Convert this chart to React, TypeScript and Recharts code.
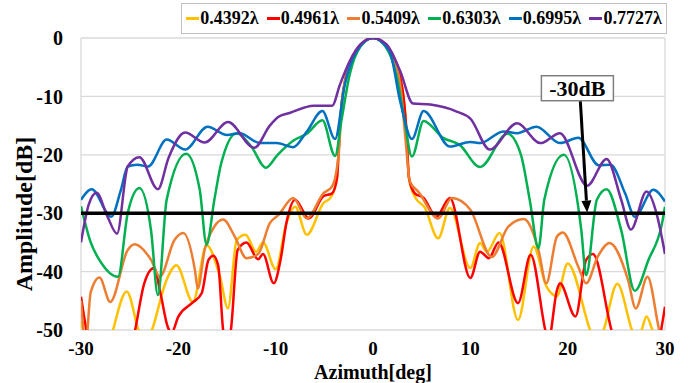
import React from "react";
import {
  LineChart,
  Line,
  XAxis,
  YAxis,
  CartesianGrid,
  ReferenceLine,
  ReferenceDot,
  Label,
} from "recharts";

const FONT = "'Liberation Serif', 'Times New Roman', serif";

const seriesNames = ["0.4392λ", "0.4961λ", "0.5409λ", "0.6303λ", "0.6995λ", "0.7727λ"];
const seriesColors = ["#FFC000", "#FF0000", "#ED7D31", "#00B050", "#0070C0", "#7030A0"];

// 0.4392λ
const azYellow = [-30, -29.5, -28, -26.7, -25.3, -24.1, -23.4, -22.7, -21.2, -20.2, -18.5, -17.1, -15.7, -14.9, -14, -13.1, -12, -11.3, -10, -8.9, -8, -6.8, -5.1, -4.3, -3.7, -3.4, -3, -1.7, 0, 1.7, 3, 3.4, 3.7, 4.3, 5.3, 6.7, 7.9, 10, 11, 11.7, 13, 14.9, 16.5, 17.8, 18.9, 20, 22.3, 23, 23.7, 25.1, 26.6, 27.1, 27.6, 28.1, 28.7, 29.3, 30];
const dbYellow = [-48.5, -52, -60, -50, -43.4, -50, -53, -50, -41.4, -38.9, -45.2, -35.5, -41, -46.3, -34.6, -33.7, -36.6, -35, -39.6, -31.7, -28.9, -33.7, -28.3, -27.2, -24, -15, -8.5, -2.1, 0, -2.1, -8.5, -15, -24, -27.2, -29, -34.3, -29.1, -39.4, -35.1, -36.6, -33.4, -48.3, -35.7, -42.5, -44.2, -38.6, -50, -53, -50, -42.1, -50, -52, -50, -47.7, -50, -53, -51];

// 0.4961λ
const azRed = [-30, -29.4, -27, -24.5, -23.5, -22.5, -21.8, -21.1, -20.7, -20, -18.6, -17.6, -16.9, -16.4, -15.9, -15.4, -15, -14.6, -13.9, -13, -11.8, -11.3, -10.2, -9.5, -8.9, -8, -6.6, -5.1, -4.2, -3.7, -3.4, -3, -1.7, 0, 1.7, 3, 3.4, 3.7, 4.3, 5.2, 6.5, 7.9, 10, 11, 11.9, 12.9, 14.9, 16.2, 17.7, 18, 18.9, 19.2, 20.8, 21.9, 22.6, 24.5, 27, 29.6, 30];
const dbRed = [-44.3, -50.5, -62, -50.5, -42, -39.4, -44, -49.4, -50.5, -47.7, -45.4, -43.7, -38, -37.3, -39, -50, -53, -50, -36.3, -35, -37.9, -37, -42, -38, -31.7, -27.7, -30.9, -27.1, -26.6, -24, -15, -8.5, -2.1, 0, -2.1, -8.5, -15, -24, -26.6, -27.4, -30.6, -27.4, -41.1, -36.6, -37.7, -35, -45.4, -37.1, -50, -52, -43.2, -42, -47.7, -38, -37, -50, -62, -50, -46];

// 0.5409λ
const azOrange = [-30, -29.5, -29, -28.1, -27, -25.2, -24.5, -22.8, -21.9, -20.4, -19.5, -18.3, -18, -17.3, -16.3, -15.4, -14.2, -13, -11.8, -10.6, -9.7, -8.2, -6.8, -5.1, -4.2, -3.5, -3.2, -2.7, -1.7, 0, 1.7, 2.8, 3.3, 3.8, 4.7, 6.7, 8.1, 10, 12.2, 13.9, 15.5, 17, 17.8, 18.9, 19.5, 21.1, 21.9, 23.1, 24.3, 26.2, 27, 28.2, 29.4, 30];
const dbOrange = [-45, -52, -43.5, -41, -45.2, -36.3, -35.3, -38, -40.9, -34.6, -33.4, -39.7, -42.9, -36.3, -32.3, -31.1, -34, -37.7, -37, -31.7, -30.3, -27.4, -30.9, -26.6, -25.4, -19.4, -10.9, -6.3, -2, 0, -2, -8, -16.6, -24.6, -26.4, -30.9, -27.4, -29.4, -37.5, -32.3, -31, -36.3, -42, -34, -33.3, -39.2, -42, -37.4, -35.1, -41.4, -46.3, -40.9, -50, -54];

// 0.6303λ
const azGreen = [-30, -29, -28, -26.2, -25.2, -24, -22.8, -22.1, -21.2, -19.2, -17.8, -17.1, -16.3, -15.6, -14, -12.5, -11, -9.8, -8.2, -6.8, -5.2, -3.9, -3.2, -2.4, -1.3, 0, 1.3, 2.4, 3.2, 4, 5.2, 7.2, 8.9, 11, 13.8, 15.2, 16.1, 17, 17.6, 19.6, 21.4, 21.9, 23, 24, 25.5, 26.9, 28.3, 29.7, 30];
const dbGreen = [-28.8, -35, -38.3, -40.9, -30, -25.7, -33, -44, -27.7, -19.8, -26, -35.4, -27.7, -21.5, -16.3, -18.6, -22.2, -20, -17.6, -16.4, -14.1, -20.2, -13.7, -6.3, -1.5, 0, -1.5, -6.3, -13.7, -20.3, -14.2, -17.1, -18.3, -22.1, -16.4, -20, -27.7, -36, -27.7, -20, -32.9, -40.6, -27.7, -25.9, -32.9, -43.3, -38, -31.7, -28.9];

// 0.6995λ
const azBlue = [-30, -28.9, -26.9, -25.9, -25.2, -24.2, -23.1, -21.2, -19.3, -17, -15, -13.7, -11.6, -9.9, -8.2, -6.8, -5.2, -3.9, -2.9, -1.7, 0, 1.7, 2.8, 4, 5.2, 7.9, 10, 11, 13.4, 14.8, 16.8, 19.2, 21.1, 23.2, 24.4, 25.9, 26.9, 28.8, 30];
const dbBlue = [-27.7, -25.9, -30.6, -26, -22, -21.7, -22, -17.4, -19.1, -15.2, -16.6, -16.3, -18, -18, -18.7, -16, -12.5, -17.3, -8, -2.3, 0, -2.3, -10.9, -17.3, -12.5, -18.6, -17.8, -18, -16, -16.3, -15.2, -18, -17.1, -21.8, -21.7, -26.6, -30.6, -26, -28];

// 0.7727λ
const azPurple = [-30, -29.2, -28.4, -27.3, -26.3, -25.2, -24, -22.1, -21, -19.3, -17.3, -14.9, -12.2, -10.6, -9.7, -8.5, -6.1, -4.2, -3.4, -2.4, -1.3, 0, 1.4, 2.8, 4.1, 5.9, 8.6, 10, 12, 14.8, 17.2, 19.2, 22, 24, 25.5, 26.5, 28.1, 29.2, 30];
const dbPurple = [-35, -28.5, -26.5, -30.5, -33.5, -22, -20.4, -25.9, -20.5, -16.2, -17.9, -14.4, -18.8, -15, -13.5, -12.8, -11.6, -11.6, -8, -4, -1.1, 0, -1.1, -5.7, -11.2, -11.4, -12.6, -13.8, -19.1, -14.6, -18, -16.3, -25.3, -20.7, -27.7, -32.8, -26.3, -30.5, -37];

const seriesAz = [azYellow, azRed, azOrange, azGreen, azBlue, azPurple];
const seriesDb = [dbYellow, dbRed, dbOrange, dbGreen, dbBlue, dbPurple];

const xTicks = [-30, -20, -10, 0, 10, 20, 30];
const yTicks = [0, -10, -20, -30, -40, -50];
const thresholdDb = -30;
const annotationText = "-30dB";
const boxAt = { az: 21, db: -8.6 };
const arrowFrom = { az: 21.3, db: -10.8 };
const arrowTo = { az: 22, db: -29.9 };

const toPoints = (az: number[], db: number[]) => az.map((a, i) => ({ az: a, db: db[i] }));

function ArrowShape(props: any) {
  const { x1, y1, x2, y2 } = props;
  const ang = Math.atan2(y2 - y1, x2 - x1);
  const len = 12;
  const half = 5;
  const bx = x2 - len * Math.cos(ang);
  const by = y2 - len * Math.sin(ang);
  const px = -Math.sin(ang) * half;
  const py = Math.cos(ang) * half;
  return (
    <g>
      <line x1={x1} y1={y1} x2={bx} y2={by} stroke="#000" strokeWidth={3} />
      <polygon points={`${x2},${y2} ${bx + px},${by + py} ${bx - px},${by - py}`} fill="#000" />
    </g>
  );
}

function BoxShape(props: any) {
  const { cx, cy } = props;
  return (
    <g>
      <rect x={cx - 36} y={cy - 12.5} width={72} height={25} fill="#fff" stroke="#7f7f7f" strokeWidth={1.5} />
      <text x={cx} y={cy + 7.5} textAnchor="middle" fontFamily={FONT} fontWeight="bold" fontSize={22} fill="#000">
        {annotationText}
      </text>
    </g>
  );
}

const yTickStyle = { fontFamily: FONT, fontWeight: "bold" as const, fontSize: 20, fill: "#000" };
const xTickStyle = { fontFamily: FONT, fontWeight: "bold" as const, fontSize: 19, fill: "#000" };

export default function App() {
  return (
    <div style={{ position: "absolute", left: 0, top: 0, width: 692, height: 383, background: "#fff" }}>
      <div
        style={{
          position: "absolute",
          left: 181,
          top: 3,
          width: 484,
          height: 29,
          border: "1px solid #bfbfbf",
          display: "flex",
          alignItems: "center",
          justifyContent: "space-around",
          fontFamily: FONT,
          fontWeight: "bold",
          fontSize: 18,
          background: "#fff",
          zIndex: 2,
        }}
      >
        {seriesNames.map((n, i) => (
          <span key={n} style={{ display: "flex", alignItems: "center" }}>
            <span style={{ display: "inline-block", width: 13, height: 2.5, background: seriesColors[i], marginRight: 1 }} />
            {n}
          </span>
        ))}
      </div>
      <LineChart width={692} height={383} margin={{ top: 38, right: 27, bottom: 0, left: 0 }}>
        <CartesianGrid vertical={false} stroke="#d9d9d9" strokeWidth={1.3} />
        <XAxis
          type="number"
          dataKey="az"
          domain={[-30, 30]}
          ticks={xTicks}
          allowDataOverflow
          height={53}
          axisLine={false}
          tickLine={false}
          tickSize={0}
          tickMargin={12}
          tick={xTickStyle}
        >
          <Label
            content={(p: any) => {
              const vb = p.viewBox;
              return (
                <text x={vb.x + vb.width / 2} y={vb.y + 49} textAnchor="middle" fontFamily={FONT} fontWeight="bold" fontSize={20} fill="#000">
                  Azimuth[deg]
                </text>
              );
            }}
          />
        </XAxis>
        <YAxis
          type="number"
          domain={[-50, 0]}
          ticks={yTicks}
          allowDataOverflow
          width={81}
          axisLine={false}
          tickLine={false}
          tickSize={0}
          tickMargin={18}
          tick={yTickStyle}
        >
          <Label
            content={(p: any) => {
              const vb = p.viewBox;
              const cx = 24;
              const cy = vb.y + vb.height / 2 + 30;
              return (
                <text x={cx} y={cy} transform={`rotate(-90 ${cx} ${cy})`} textAnchor="middle" dominantBaseline="central" fontFamily={FONT} fontWeight="bold" fontSize={24} fill="#000">
                  Amplitude[dB]
                </text>
              );
            }}
          />
        </YAxis>
        <ReferenceLine x={-30} stroke="#d9d9d9" strokeWidth={1.3} />
        <ReferenceLine x={30} stroke="#d9d9d9" strokeWidth={1.3} />
        {seriesNames.map((n, i) => (
          <Line
            key={n}
            data={toPoints(seriesAz[i], seriesDb[i])}
            dataKey="db"
            name={n}
            type="monotone"
            stroke={seriesColors[i]}
            strokeWidth={2.5}
            dot={false}
            isAnimationActive={false}
          />
        ))}
        <ReferenceLine y={thresholdDb} stroke="#000" strokeWidth={3.5} />
        <ReferenceLine
          segment={[
            { x: arrowFrom.az, y: arrowFrom.db },
            { x: arrowTo.az, y: arrowTo.db },
          ]}
          shape={ArrowShape}
        />
        <ReferenceDot x={boxAt.az} y={boxAt.db} shape={BoxShape} />
      </LineChart>
    </div>
  );
}
